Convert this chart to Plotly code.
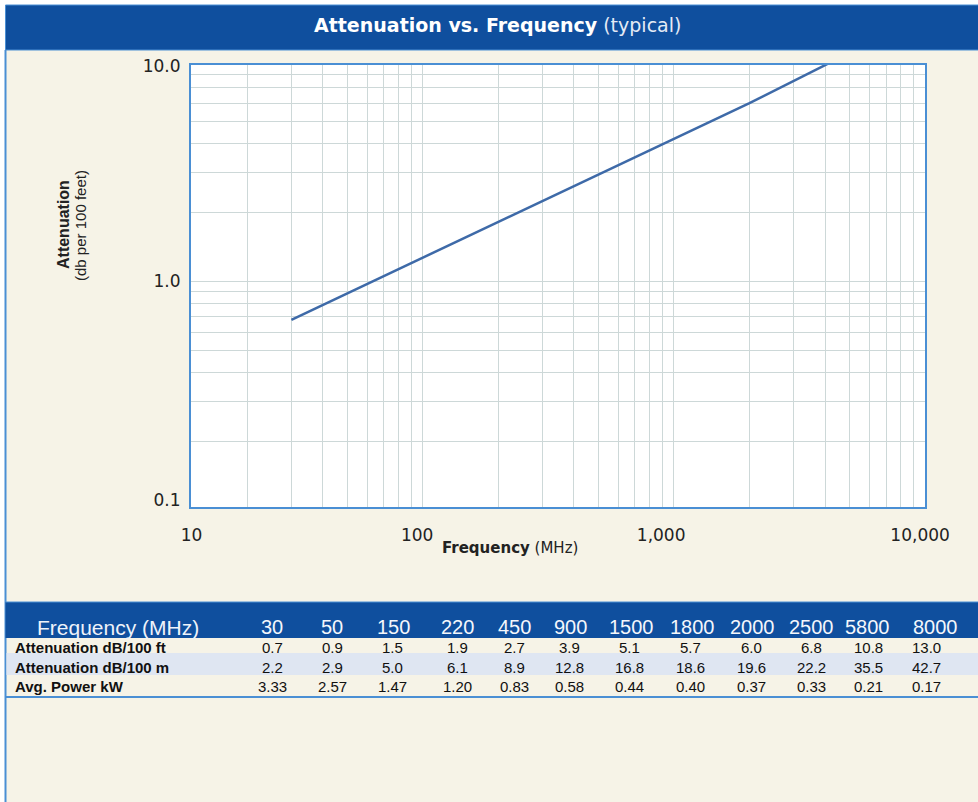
import math
import plotly.graph_objects as go

# ---------------- data ----------------
# table values
freq_mhz = [30, 50, 150, 220, 450, 900, 1500, 1800, 2000, 2500, 5800, 8000]
atten_db_100ft = [0.7, 0.9, 1.5, 1.9, 2.7, 3.9, 5.1, 5.7, 6.0, 6.8, 10.8, 13.0]
atten_db_100m = [2.2, 2.9, 5.0, 6.1, 8.9, 12.8, 16.8, 18.6, 19.6, 22.2, 35.5, 42.7]
avg_power_kw = [3.33, 2.57, 1.47, 1.20, 0.83, 0.58, 0.44, 0.40, 0.37, 0.33, 0.21, 0.17]

# plotted curve (dB per 100 ft)
curve_freq_mhz = [30, 100, 300, 1000, 2000, 5800]
curve_atten_db = [0.68, 1.27, 2.24, 4.2, 6.0, 10.8]

x_tick_labels = ["10", "100", "1,000", "10,000"]
y_tick_labels = ["0.1", "1.0", "10.0"]
row_labels = ["Attenuation dB/100 ft", "Attenuation dB/100 m", "Avg. Power kW"]

# ---------------- layout constants ----------------
W, H = 978, 802
PL, PR, PT, PB = 191, 925, 65, 507          # plot area in pixels
X_RANGE = [math.log10(11.95), 4.0]
Y_RANGE = [-0.985, 0.945]
x_tick_pos = [12.0, 95, 890, 9560]
y_tick_pos = [0.111, 1.003, 8.71]
header_x_px = [272, 332, 393, 457, 514, 570, 631, 692, 752, 811, 867, 935]
value_x_px = [272, 332, 392, 457, 514, 569, 629, 690, 751, 811, 868, 926]

BLUE = "#0f4f9e"
LIGHT_BLUE_LINE = "#4a8fd4"
CREAM = "#f6f3e7"
ROW_BAND = "#dfe6f2"
GRID = "#cdd8d8"
TXT = "#222222"


def px(x):
    return (x - PL) / (PR - PL)


def py(y):
    return (PB - y) / (PB - PT)


minor_x = [m * 10 ** k for k in (1, 2, 3) for m in range(1, 10)]
minor_y = [m * 10 ** k for k in (-1, 0) for m in range(1, 10)]

fig = go.Figure()
fig.add_trace(go.Scatter(
    x=curve_freq_mhz, y=curve_atten_db, mode="lines",
    line=dict(color="#3e6aa8", width=2.5),
    showlegend=False, hoverinfo="x+y",
))

shapes = []


def rect(x0, y0, x1, y1, fill, line_color=None, line_width=0):
    shapes.append(dict(
        type="rect", xref="paper", yref="paper",
        x0=px(x0), x1=px(x1), y0=py(y1), y1=py(y0),
        fillcolor=fill,
        line=dict(color=line_color or fill, width=line_width),
        layer="below",
    ))


def hline(x0, x1, y, color, width):
    shapes.append(dict(type="line", xref="paper", yref="paper",
                       x0=px(x0), x1=px(x1), y0=py(y), y1=py(y),
                       line=dict(color=color, width=width), layer="below"))


def vline(x, y0, y1, color, width):
    shapes.append(dict(type="line", xref="paper", yref="paper",
                       x0=px(x), x1=px(x), y0=py(y0), y1=py(y1),
                       line=dict(color=color, width=width), layer="below"))


# white strips at the top and left edge
rect(0, 0, W, 5, "white")
rect(0, 0, 5, H, "white")
# title banner
rect(5.5, 5, W + 2, 50, BLUE, LIGHT_BLUE_LINE, 1)
# left border line
vline(5.5, 50, H, LIGHT_BLUE_LINE, 2)
# table header band
rect(5.5, 602, W + 2, 638, BLUE)
hline(5.5, W, 602, LIGHT_BLUE_LINE, 1)
# alternate row band
rect(6.5, 653, W + 2, 675, ROW_BAND)
# table bottom line
hline(5.5, W, 697, LIGHT_BLUE_LINE, 2)

annotations = []


def text(x, y, s, size, color=TXT, family="Liberation Sans", xanchor="center",
         angle=0):
    annotations.append(dict(
        x=px(x), y=py(y), xref="paper", yref="paper", text=s, showarrow=False,
        xanchor=xanchor, yanchor="middle", textangle=angle,
        font=dict(size=size, color=color, family=family),
    ))


# title
text(497, 25, "<b>Attenuation vs. Frequency</b> "
     "<span style='color:#e4ebf6'>(typical)</span>", 19, "white", "DejaVu Sans")
# axis titles
text(510, 548, "<b>Frequency</b> (MHz)", 15, TXT, "DejaVu Sans")
text(63, 225, "<b>Attenuation</b>", 16, TXT, "Liberation Sans", angle=-90)
text(80, 225, "(db per 100 feet)", 15, TXT, "Liberation Sans", angle=-90)

# table header
text(35, 627, "Frequency (MHz)", 21, "#eef3fa", xanchor="left")
for xp, f in zip(header_x_px, freq_mhz):
    text(xp, 627, str(f), 20, "#f4f7fc")

# table rows
row_y = [647.5, 667, 686.5]
rows = [
    [f"{v:.1f}" for v in atten_db_100ft],
    [f"{v:.1f}" for v in atten_db_100m],
    [f"{v:.2f}" for v in avg_power_kw],
]
for ry, lab, vals in zip(row_y, row_labels, rows):
    text(13, ry, f"<b>{lab}</b>", 15, "#111111", xanchor="left")
    for xp, v in zip(value_x_px, vals):
        text(xp, ry, v, 15, "#111111")

axis_font = dict(family="DejaVu Sans", size=17, color=TXT)

fig.update_layout(
    width=W, height=H,
    margin=dict(l=PL, r=W - PR, t=PT, b=H - PB, pad=0),
    paper_bgcolor=CREAM,
    plot_bgcolor="white",
    shapes=shapes,
    annotations=annotations,
    showlegend=False,
    xaxis=dict(
        type="log", range=X_RANGE,
        tickmode="array", tickvals=x_tick_pos, ticktext=x_tick_labels,
        tickfont=axis_font, ticks="outside", ticklen=12,
        tickcolor="rgba(0,0,0,0)",
        showgrid=False, zeroline=False,
        showline=True, mirror=True, linecolor=LIGHT_BLUE_LINE, linewidth=2,
        minor=dict(tickmode="array", tickvals=minor_x, showgrid=True,
                   gridcolor=GRID, gridwidth=1, ticks=""),
    ),
    yaxis=dict(
        type="log", range=Y_RANGE,
        tickmode="array", tickvals=y_tick_pos, ticktext=y_tick_labels,
        tickfont=axis_font, ticks="outside", ticklen=5,
        tickcolor="rgba(0,0,0,0)",
        showgrid=False, zeroline=False,
        showline=True, mirror=True, linecolor=LIGHT_BLUE_LINE, linewidth=2,
        minor=dict(tickmode="array", tickvals=minor_y, showgrid=True,
                   gridcolor=GRID, gridwidth=1, ticks=""),
    ),
)

fig.write_html(
    "out.html",
    config={"displayModeBar": False},
    post_script="document.body.style.margin='0';document.body.style.overflow='hidden';",
)
